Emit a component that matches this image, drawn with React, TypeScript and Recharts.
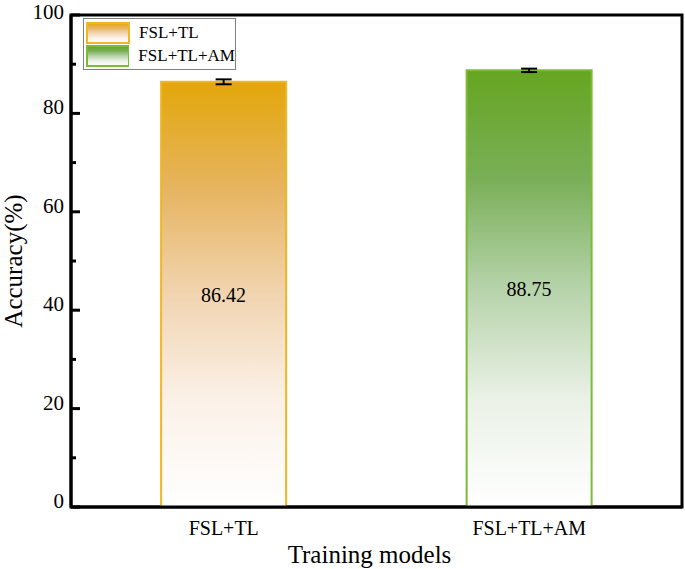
import React from "react"
import {
  Bar,
  BarChart,
  Cell,
  ErrorBar,
  LabelList,
  Legend,
  ReferenceArea,
  XAxis,
  YAxis,
} from "recharts"

const models = ["FSL+TL", "FSL+TL+AM"]
const accuracy = [86.42, 88.75]
const accuracyErr = [0.5, 0.35]
const yTicks = [0, 10, 20, 30, 40, 50, 60, 70, 80, 90, 100]

const GRADS = [
  { id: "gOrange", stroke: "#F0B623", stops: ["#E3A70A", "#E6B460", "#F1D4B0", "#FBF1E8", "#FFFFFF"] },
  { id: "gGreen", stroke: "#7CBB36", stops: ["#66A521", "#7AAF58", "#B6D3AA", "#EAF1E6", "#FFFFFF"] },
]

const FONT = "'Liberation Serif', 'Times New Roman', serif"

const data = models.map((name, i) => ({
  name,
  value: accuracy[i],
  err: accuracyErr[i],
}))

function YTick(props: any) {
  const { x, y, payload } = props
  const major = payload.value % 20 === 0
  const ax = x + 6
  // keep the top label inside the picture
  const ty = Math.max(y + 1, 19)
  return (
    <g>
      <line x1={ax} x2={ax + (major ? 9 : 5)} y1={y} y2={y} stroke="#000" strokeWidth={3} />
      {major && (
        <text x={x - 1} y={ty} textAnchor="end" fontSize={21} fontFamily={FONT} fill="#000">
          {payload.value}
        </text>
      )}
    </g>
  )
}

function renderLegend() {
  return (
    <div
      style={{
        border: "1px solid #808080",
        background: "#fff",
        padding: "2px 0 2px 2px",
        fontFamily: FONT,
        fontSize: 17,
        boxSizing: "border-box",
      }}
    >
      {models.map((m, i) => (
        <div key={m} style={{ display: "flex", alignItems: "center", height: 23 }}>
          <svg width={44} height={22} style={{ display: "block" }}>
            <rect x={1} y={1} width={42} height={20} fill={`url(#${GRADS[i].id})`} stroke={GRADS[i].stroke} strokeWidth={2} />
          </svg>
          <span style={{ marginLeft: 9, lineHeight: "22px" }}>{m}</span>
        </div>
      ))}
    </div>
  )
}

export default function App() {
  return (
    <div style={{ position: "absolute", left: 0, top: 0, background: "#fff" }}>
      <svg width={0} height={0} style={{ position: "absolute" }}>
        <defs>
          {GRADS.map((g) => (
            <linearGradient key={g.id} id={g.id} x1="0" y1="0" x2="0" y2="1">
              {g.stops.map((c, k) => (
                <stop key={k} offset={`${k * 25}%`} stopColor={c} />
              ))}
            </linearGradient>
          ))}
        </defs>
      </svg>
      <BarChart
        width={685}
        height={569}
        data={data}
        margin={{ top: 15, right: 3, bottom: 0, left: 0 }}
        barCategoryGap="29.5%"
      >
        <XAxis
          dataKey="name"
          height={62}
          tickLine={false}
          tickSize={0}
          tickMargin={14}
          axisLine={{ stroke: "#000", strokeWidth: 3 }}
          tick={{ fill: "#000", fontSize: 20, fontFamily: FONT }}
          label={{
            content: (p: any) => {
              const vb = p.viewBox
              return (
                <text x={vb.x + vb.width / 2 - 7} y={563} textAnchor="middle" fontSize={25} fontFamily={FONT} fill="#000">
                  Training models
                </text>
              )
            },
          }}
        />
        <YAxis
          width={71}
          domain={[0, 100]}
          ticks={yTicks}
          interval={0}
          tickLine={false}
          tickSize={0}
          tickMargin={6}
          axisLine={{ stroke: "#000", strokeWidth: 3 }}
          tick={<YTick />}
          label={{
            content: () => (
              <text
                x={0}
                y={0}
                transform="translate(22 261) rotate(-90)"
                textAnchor="middle"
                fontSize={25}
                fontFamily={FONT}
                fill="#000"
              >
                Accuracy(%)
              </text>
            ),
          }}
        />
        <ReferenceArea y1={0} y2={100} fill="none" stroke="#000" strokeWidth={3} fillOpacity={0} />
        <Legend
          layout="horizontal"
          verticalAlign="middle"
          align="center"
          content={renderLegend}
          wrapperStyle={{ position: "absolute", left: 83, top: 18, width: 153, height: 52 }}
        />
        <Bar dataKey="value" isAnimationActive={false} strokeWidth={2}>
          {data.map((d, i) => (
            <Cell key={d.name} fill={`url(#${GRADS[i].id})`} stroke={GRADS[i].stroke} />
          ))}
          <LabelList
            dataKey="value"
            position="center"
            fill="#000"
            fontSize={20}
            fontFamily={FONT}
          />
          <ErrorBar dataKey="err" width={8} stroke="#000" strokeWidth={2} direction="y" />
        </Bar>
      </BarChart>
    </div>
  )
}
